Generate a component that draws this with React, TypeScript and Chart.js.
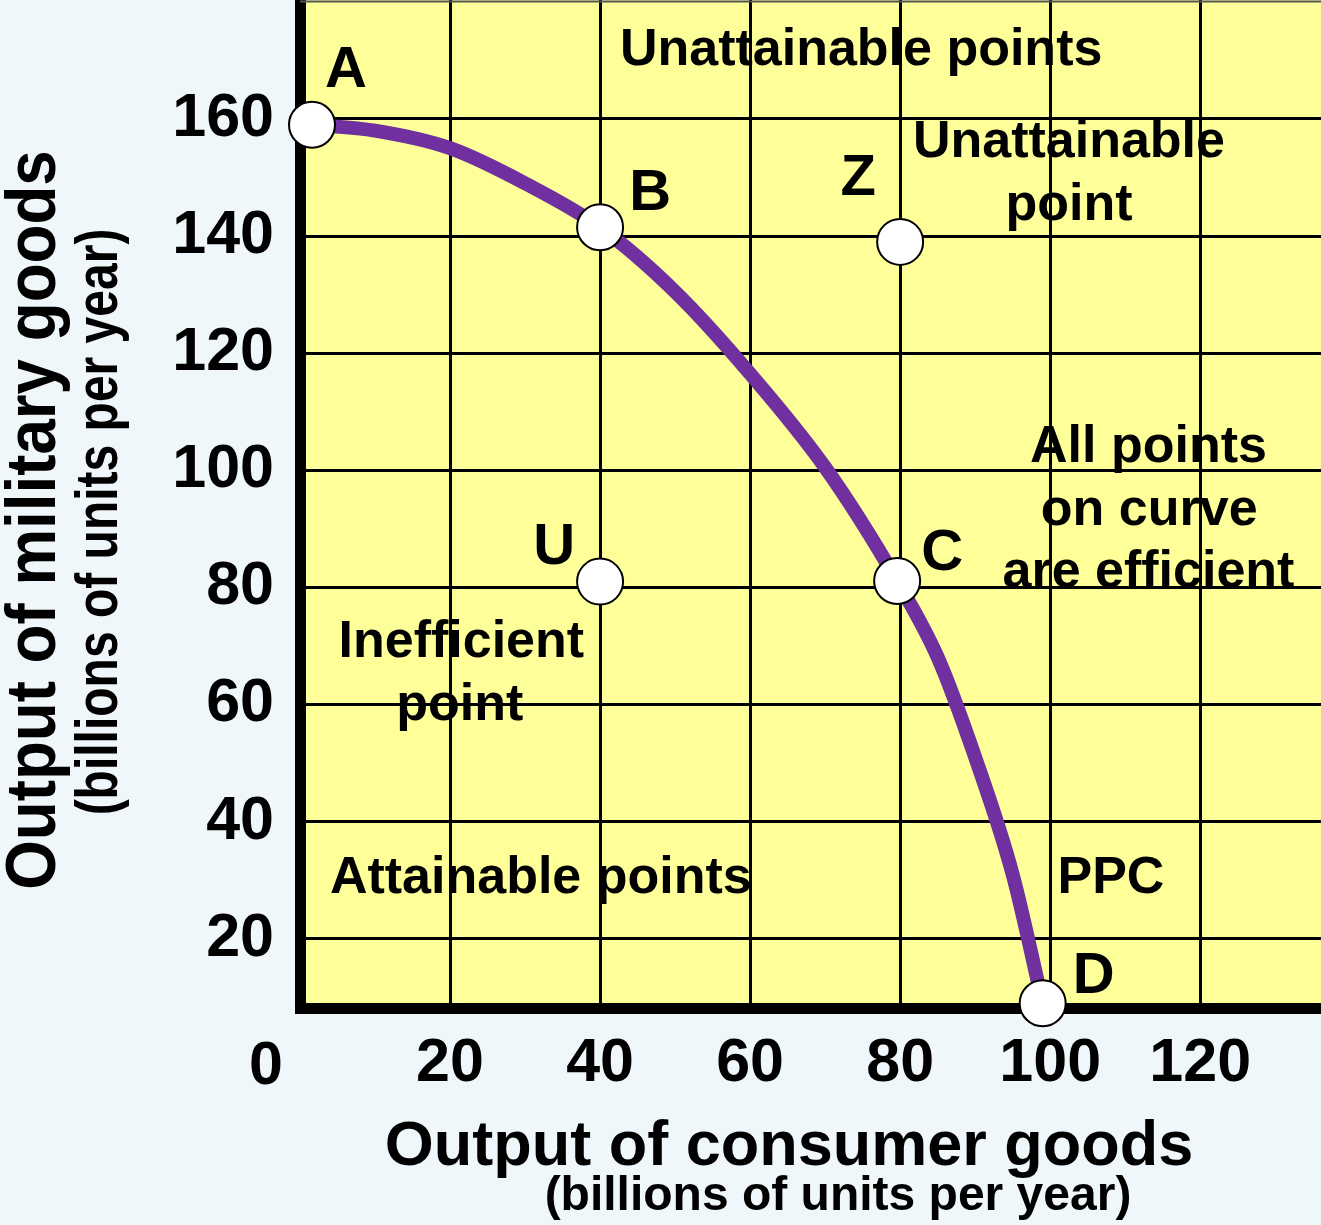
import React, { useEffect, useRef } from 'react';
import { Chart, registerables } from 'chart.js';

Chart.register(...registerables);

const FONT = '"Liberation Sans", Arial, Helvetica, sans-serif';
const BG = '#EFF7FA';
const PLOT_BG = '#FFFF99';
const CURVE = '#7030A0';

// Tick values
const xTickValues = [0, 20, 40, 60, 80, 100, 120];
const yTickValues = [20, 40, 60, 80, 100, 120, 140, 160];

// Production possibility curve (consumer goods, military goods)
const curveX = [1.6, 10, 20, 30, 40, 50, 60, 70, 79.6, 85, 90, 95, 99];
const curveY = [159, 158, 155, 149, 141.5, 130.5, 116.5, 100.5, 81.1, 68.1, 51, 31, 9];

// Labelled points
const pointNames = ['A', 'B', 'Z', 'U', 'C', 'D'];
const pointX = [1.6, 40, 80, 40, 79.6, 99];
const pointY = [159, 141.5, 139, 81, 81.1, 9];

// Annotations (text, anchored in data units)
const noteTexts = [
  'Unattainable points',
  'Unattainable',
  'point',
  'All points',
  'on curve',
  'are efficient',
  'Inefficient',
  'point',
  'Attainable points',
  'PPC',
];
const noteX = [74.8, 102.5, 102.5, 113.1, 113.2, 113.1, 21.5, 21.3, 32.1, 108.1];
const noteY = [169.2, 153.5, 142.8, 101.4, 90.7, 80.1, 68.1, 57.4, 27.8, 27.8];

const xTitle = 'Output of consumer goods';
const yTitle = 'Output of military goods';
const unitsTitle = '(billions of units per year)';
const originLabel = '0';

// pixel offsets of the point letters from their markers (text centre, baseline)
const LABEL_OFFSETS: Record<string, [number, number]> = {
  A: [34, -38],
  B: [50, -17],
  Z: [-42, -47],
  U: [-46, -18],
  C: [45, -11],
  D: [51, -10],
};

const decorPlugin = {
  id: 'decor',
  beforeDraw(chart: any) {
    const { ctx, chartArea: a, width, height } = chart;
    ctx.save();
    ctx.fillStyle = BG;
    ctx.fillRect(0, 0, width, height);
    ctx.fillStyle = PLOT_BG;
    ctx.fillRect(a.left, a.top, a.right - a.left, a.bottom - a.top);
    ctx.restore();
  },
  afterDraw(chart: any) {
    const { ctx, chartArea: a, scales } = chart;
    const xs = scales.x;
    const ys = scales.y;
    ctx.save();
    // thin top frame line
    ctx.strokeStyle = '#555';
    ctx.lineWidth = 2;
    ctx.beginPath();
    ctx.moveTo(a.left, a.top + 1.5);
    ctx.lineTo(a.right, a.top + 1.5);
    ctx.stroke();

    ctx.fillStyle = '#000';
    ctx.textAlign = 'center';
    ctx.textBaseline = 'alphabetic';

    // region annotations
    ctx.font = `bold 52px ${FONT}`;
    noteTexts.forEach((t, i) => {
      ctx.fillText(t, xs.getPixelForValue(noteX[i]), ys.getPixelForValue(noteY[i]));
    });

    // point letters
    ctx.font = `bold 58px ${FONT}`;
    const meta = chart.getDatasetMeta(0);
    meta.data.forEach((el: any, i: number) => {
      const name = pointNames[i];
      const [dx, dy] = LABEL_OFFSETS[name];
      ctx.fillText(name, el.x + dx, el.y + dy);
    });

    // origin label
    ctx.font = `bold 61px ${FONT}`;
    ctx.fillText(originLabel, xs.getPixelForValue(0) - 34, a.bottom + 76);

    // x axis titles
    ctx.font = `bold 63px ${FONT}`;
    ctx.fillText(xTitle, 789, 1165);
    ctx.font = `bold 48px ${FONT}`;
    ctx.fillText(unitsTitle, 838, 1210);

    // y axis titles (condensed along text direction)
    ctx.save();
    ctx.translate(55, 520);
    ctx.rotate(-Math.PI / 2);
    ctx.scale(0.91, 1);
    ctx.font = `bold 70px ${FONT}`;
    ctx.fillText(yTitle, 0, 0);
    ctx.restore();

    ctx.save();
    ctx.translate(117, 522);
    ctx.rotate(-Math.PI / 2);
    ctx.scale(0.8, 1);
    ctx.font = `bold 60px ${FONT}`;
    ctx.fillText(unitsTitle, 0, 0);
    ctx.restore();

    ctx.restore();
  },
};

export default function App() {
  const canvasRef = useRef<HTMLCanvasElement | null>(null);

  useEffect(() => {
    const canvas = canvasRef.current;
    if (!canvas) return;

    const markers = pointX.map((x, i) => ({ x, y: pointY[i] }));
    const curve = curveX.map((x, i) => ({ x, y: curveY[i] }));

    const chart = new Chart(canvas, {
      type: 'scatter',
      data: {
        datasets: [
          {
            label: 'points',
            data: markers,
            showLine: false,
            pointRadius: 23,
            pointHoverRadius: 23,
            pointBackgroundColor: '#FFFFFF',
            pointBorderColor: '#000000',
            pointBorderWidth: 2,
            clip: false,
          } as any,
          {
            label: 'PPC',
            data: curve,
            showLine: true,
            borderColor: CURVE,
            borderWidth: 14,
            pointRadius: 0,
            pointHoverRadius: 0,
            cubicInterpolationMode: 'monotone',
            borderCapStyle: 'round',
            fill: false,
            clip: false,
          } as any,
        ],
      },
      options: {
        responsive: false,
        animation: false,
        devicePixelRatio: 1,
        layout: { padding: 0, autoPadding: false },
        plugins: {
          legend: { display: false },
          tooltip: { enabled: false },
          title: { display: false },
        },
        events: [],
        scales: {
          x: {
            type: 'linear',
            min: 0,
            max: 136.1,
            afterBuildTicks: (s: any) => {
              s.ticks = xTickValues.map((v) => ({ value: v }));
            },
            afterFit: (s: any) => {
              s.height = 217;
              s.paddingLeft = 0;
              s.paddingRight = 0;
            },
            grid: { color: '#000', lineWidth: 3, drawTicks: false },
            border: { display: true, color: '#000', width: 11 },
            ticks: {
              color: '#000',
              font: { family: FONT, size: 61, weight: 'bold' },
              padding: 20,
              maxRotation: 0,
              autoSkip: false,
              callback: (v: any) => (Number(v) === 0 ? '' : String(v)),
            },
          },
          y: {
            type: 'linear',
            min: 8.2,
            max: 180.3,
            afterBuildTicks: (s: any) => {
              s.ticks = yTickValues.map((v) => ({ value: v }));
            },
            afterFit: (s: any) => {
              s.width = 300;
              s.paddingTop = 0;
              s.paddingBottom = 0;
            },
            grid: { color: '#000', lineWidth: 3, drawTicks: false },
            border: { display: true, color: '#000', width: 11 },
            ticks: {
              color: '#000',
              font: { family: FONT, size: 61, weight: 'bold' },
              padding: 26,
              autoSkip: false,
              callback: (v: any) => String(v),
            },
          },
        },
      } as any,
      plugins: [decorPlugin],
    });

    return () => chart.destroy();
  }, []);

  return (
    <div style={{ position: 'absolute', left: 0, top: 0, width: 1321, height: 1225, overflow: 'hidden' }}>
      <canvas ref={canvasRef} width={1321} height={1225} style={{ display: 'block' }} />
    </div>
  );
}
